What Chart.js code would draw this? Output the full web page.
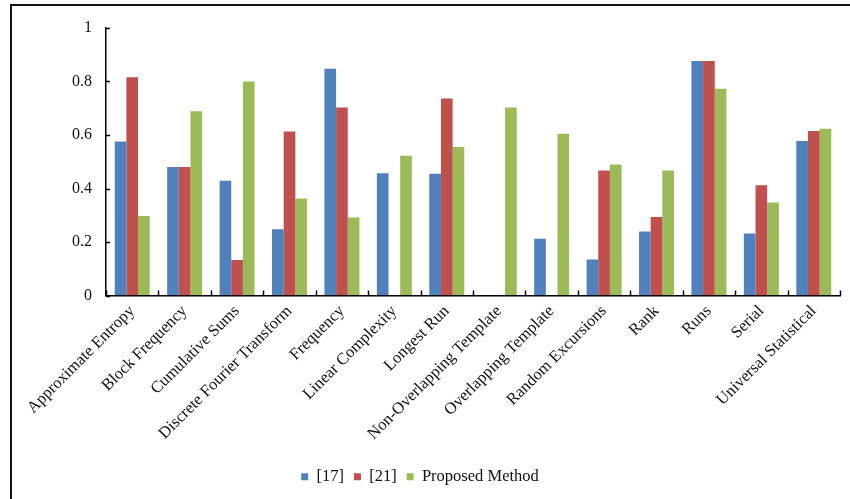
<!DOCTYPE html>
<html lang="en">
<head>
  <meta charset="UTF-8">
  <title>NIST Test Comparison</title>
  <script src="https://cdn.jsdelivr.net/npm/chart.js"></script>
  <style>
    html, body { margin: 0; padding: 0; background: #fff; }
    #wrap { position: relative; width: 850px; height: 499px; overflow: hidden; }
    #frame {
      position: absolute; left: 10px; top: 4px; width: 845px; height: 500px;
      border-top: 2px solid #111; border-left: 2px solid #111;
    }
    canvas { position: absolute; left: 0; top: 0; }
  </style>
</head>
<body>
  <div id="wrap">
    <div id="frame"></div>
    <canvas id="testChart" width="850" height="499"></canvas>
  </div>

  <script>
    // Test names along the x axis
    const tests = ['Approximate Entropy', 'Block Frequency', 'Cumulative Sums', 'Discrete Fourier Transform',
      'Frequency', 'Linear Complexity', 'Longest Run', 'Non-Overlapping Template', 'Overlapping Template',
      'Random Excursions', 'Rank', 'Runs', 'Serial', 'Universal Statistical'];

    // Values (null = no bar drawn)
    const ref17 = [0.576, 0.48, 0.429, 0.248, 0.848, 0.457, 0.455, null, 0.212, 0.135, 0.239, 0.877, 0.232, 0.578];
    const ref21 = [0.816, 0.48, 0.133, 0.613, 0.703, null, 0.736, null, null, 0.467, 0.293, 0.877, 0.412, 0.615];
    const proposed = [0.297, 0.689, 0.8, 0.363, 0.292, 0.522, 0.555, 0.703, 0.605, 0.49, 0.467, 0.773, 0.348, 0.623];

    const yTicks = [0, 0.2, 0.4, 0.6, 0.8, 1];

    // Excel style short tick marks drawn on the inside of both axes
    const innerTicks = {
      id: 'innerTicks',
      afterDraw(chart) {
        const ctx = chart.ctx;
        const x = chart.scales.x;
        const y = chart.scales.y;
        const area = chart.chartArea;
        ctx.save();
        ctx.strokeStyle = '#000';
        ctx.lineWidth = 1.5;
        ctx.beginPath();
        yTicks.forEach(function(v) {
          const py = Math.round(y.getPixelForValue(v)) + 0.5;
          ctx.moveTo(area.left, py);
          ctx.lineTo(area.left + 4, py);
        });
        const half = (x.getPixelForValue(1) - x.getPixelForValue(0)) / 2;
        for (let i = 0; i <= tests.length; i++) {
          const px = Math.round(x.getPixelForValue(i) - half) + 0.5;
          ctx.moveTo(px, area.bottom);
          ctx.lineTo(px, area.bottom - 5);
        }
        ctx.stroke();
        ctx.restore();
      }
    };

    const serif = 'Liberation Serif, Times New Roman, serif';

    new Chart(document.getElementById('testChart').getContext('2d'), {
      type: 'bar',
      data: {
        labels: tests,
        datasets: [
          { label: '[17]', data: ref17, backgroundColor: '#4F81BD' },
          { label: '[21]', data: ref21, backgroundColor: '#C0504D' },
          { label: 'Proposed Method', data: proposed, backgroundColor: '#9BBB59' }
        ]
      },
      options: {
        responsive: false,
        animation: false,
        datasets: { bar: { categoryPercentage: 0.667, barPercentage: 1.0 } },
        layout: { padding: { top: 28, right: 10, bottom: 4, left: 0 } },
        scales: {
          x: {
            offset: true,
            grid: { display: true, drawOnChartArea: false, drawTicks: false, offset: true, color: 'rgba(0,0,0,0)' },
            border: { display: true, color: '#000', width: 1.5 },
            ticks: {
              color: '#111',
              font: { family: serif, size: 16.5 },
              maxRotation: 45,
              minRotation: 45,
              autoSkip: false,
              padding: 6
            },
            afterFit(scale) { scale.height = 163; }
          },
          y: {
            min: 0,
            max: 1,
            grid: { drawOnChartArea: false, drawTicks: false },
            border: { display: true, color: '#000', width: 1.5 },
            ticks: {
              stepSize: 0.2,
              color: '#111',
              font: { family: serif, size: 16 },
              padding: 14,
              callback: function(v) { return String(Math.round(v * 10) / 10); }
            },
            afterFit(scale) { scale.width = 106; }
          }
        },
        plugins: {
          legend: {
            position: 'bottom',
            labels: {
              color: '#111',
              font: { family: serif, size: 16.5 },
              boxWidth: 7,
              boxHeight: 7,
              padding: 10
            }
          },
          tooltip: { enabled: false }
        }
      },
      plugins: [innerTicks]
    });
  </script>
</body>
</html>
